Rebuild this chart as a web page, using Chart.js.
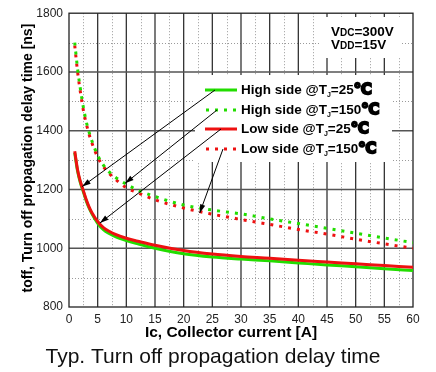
<!DOCTYPE html>
<html>
<head>
<meta charset="utf-8">
<script src="https://cdn.jsdelivr.net/npm/chart.js@4.4.0/dist/chart.umd.min.js"></script>
<style>
html, body { margin: 0; padding: 0; background: #fff; }
#wrap { width: 436px; height: 372px; }
</style>
</head>
<body>
<div id="wrap"><canvas id="myChart"></canvas></div>
<script>
// collector current [A]
var currents = [1, 1.5, 2, 2.5, 3, 3.5, 4, 5, 6, 7, 8, 10, 12, 15, 20, 25, 30, 35, 40, 45, 50, 55, 60];

// toff [ns]
var highSide25  = [1325, 1262, 1222, 1192, 1162, 1137, 1117, 1085, 1063, 1050, 1040, 1026, 1015, 1000, 981, 970, 963, 957, 950, 943, 937, 930, 924];
var highSide150 = [1700, 1610, 1540, 1480, 1432, 1395, 1365, 1316, 1283, 1260, 1243, 1218, 1198, 1176, 1147, 1130, 1117, 1100, 1084, 1068, 1051, 1035, 1019];
var lowSide25   = [1330, 1266, 1226, 1196, 1166, 1141, 1121, 1091, 1070, 1058, 1048, 1034, 1024, 1010, 992, 980, 972, 966, 959, 953, 947, 941, 935];
var lowSide150  = [1690, 1600, 1530, 1470, 1425, 1388, 1358, 1310, 1278, 1255, 1236, 1206, 1189, 1165, 1137, 1116, 1098, 1081, 1064, 1048, 1031, 1015, 1000];

var legendSides = ['High side', 'High side', 'Low side', 'Low side'];
var legendTemps = ['25', '150', '25', '150'];
var lineColors = ['#22dd00', '#22dd00', '#ee1111', '#ee1111'];
var dotted = [false, true, false, true];

// where the legend arrows point (data units)
var arrowX = [2.3, 9.8, 5.4, 22.8];
var arrowY = [1210, 1221, 1086, 1120];

var xTicks = [0, 60, 5];
var yTicks = [800, 1800, 200];

var FONT = '"Liberation Sans", Arial, sans-serif';

function pts(vals) {
    var out = [];
    for (var i = 0; i < currents.length; i++) out.push({x: currents[i], y: vals[i]});
    return out;
}

function ds(vals, idx) {
    return {
        label: legendSides[idx] + ' @TJ=' + legendTemps[idx],
        data: pts(vals),
        borderColor: lineColors[idx],
        borderWidth: 3,
        borderDash: dotted[idx] ? [3, 6] : [],
        borderCapStyle: 'butt',
        pointRadius: 0,
        cubicInterpolationMode: 'monotone',
        fill: false
    };
}

// grid with solid major and dotted minor lines, white boxes for the labels
var gridPlugin = {
    id: 'gridPlugin',
    beforeDatasetsDraw: function (chart) {
        var ctx = chart.ctx, a = chart.chartArea;
        var xs = chart.scales.x, ys = chart.scales.y;
        ctx.save();
        // minor dotted
        ctx.strokeStyle = '#9a9a9a';
        ctx.lineWidth = 1;
        ctx.setLineDash([1, 2]);
        for (var v = xTicks[0] + xTicks[2] / 2; v < xTicks[1]; v += xTicks[2]) {
            var px = Math.round(xs.getPixelForValue(v)) + 0.5;
            ctx.beginPath(); ctx.moveTo(px, a.top); ctx.lineTo(px, a.bottom); ctx.stroke();
        }
        for (var w = yTicks[0] + yTicks[2] / 2; w < yTicks[1]; w += yTicks[2]) {
            var py = Math.round(ys.getPixelForValue(w)) + 0.5;
            ctx.beginPath(); ctx.moveTo(a.left, py); ctx.lineTo(a.right, py); ctx.stroke();
        }
        ctx.setLineDash([]);
        // major solid
        ctx.strokeStyle = '#333';
        ctx.lineWidth = 1.3;
        for (var v2 = xTicks[0] + xTicks[2]; v2 < xTicks[1]; v2 += xTicks[2]) {
            var px2 = xs.getPixelForValue(v2);
            ctx.beginPath(); ctx.moveTo(px2, a.top); ctx.lineTo(px2, a.bottom); ctx.stroke();
        }
        ctx.strokeStyle = '#555';
        ctx.lineWidth = 1.6;
        for (var w2 = yTicks[0] + yTicks[2]; w2 < yTicks[1]; w2 += yTicks[2]) {
            var py2 = ys.getPixelForValue(w2);
            ctx.beginPath(); ctx.moveTo(a.left, py2); ctx.lineTo(a.right, py2); ctx.stroke();
        }
        // white boxes behind legend and conditions
        ctx.fillStyle = '#fff';
        ctx.fillRect(195, 75, 197, 87);
        ctx.fillRect(320, 17, 80, 41);
        // frame
        ctx.strokeStyle = '#222';
        ctx.lineWidth = 1.3;
        ctx.strokeRect(a.left, a.top, a.right - a.left, a.bottom - a.top);
        ctx.restore();
    },
    afterDatasetsDraw: function (chart) {
        var ctx = chart.ctx, a = chart.chartArea;
        var xs = chart.scales.x, ys = chart.scales.y;
        ctx.save();
        var rows = [90, 110, 129, 149];
        var starts = [215, 217, 221, 223];
        for (var i = 0; i < 4; i++) {
            var y = rows[i];
            // legend line
            ctx.strokeStyle = lineColors[i];
            ctx.lineWidth = 3;
            ctx.lineCap = 'butt';
            ctx.setLineDash(dotted[i] ? [3, 6] : []);
            ctx.beginPath(); ctx.moveTo(dotted[i] ? 206 : 205, y); ctx.lineTo(237, y); ctx.stroke();
            ctx.setLineDash([]);
            // label
            ctx.fillStyle = '#000';
            ctx.textBaseline = 'middle';
            ctx.textAlign = 'left';
            var x = 241;
            ctx.font = 'bold 13.5px ' + FONT;
            var t1 = legendSides[i] + ' @T';
            ctx.fillText(t1, x, y);
            x += ctx.measureText(t1).width;
            ctx.font = 'bold 7px ' + FONT;
            ctx.fillText('J', x, y + 5);
            x += ctx.measureText('J').width;
            ctx.font = 'bold 13.5px ' + FONT;
            var t2 = '=' + legendTemps[i];
            ctx.fillText(t2, x, y);
            x += ctx.measureText(t2).width;
            ctx.font = 'bold 15px "DejaVu Sans", sans-serif';
            ctx.lineWidth = 2;
            ctx.strokeStyle = '#000';
            ctx.strokeText('\u2103', x, y);
            ctx.fillText('\u2103', x, y);
            // arrow
            var ex = xs.getPixelForValue(arrowX[i]);
            var ey = ys.getPixelForValue(arrowY[i]);
            var sx = starts[i], sy = y;
            ctx.strokeStyle = '#000';
            ctx.lineWidth = 1;
            ctx.beginPath(); ctx.moveTo(sx, sy); ctx.lineTo(ex, ey); ctx.stroke();
            var ang = Math.atan2(ey - sy, ex - sx);
            ctx.fillStyle = '#000';
            ctx.beginPath();
            ctx.moveTo(ex, ey);
            ctx.lineTo(ex - 9 * Math.cos(ang - 0.3), ey - 9 * Math.sin(ang - 0.3));
            ctx.lineTo(ex - 9 * Math.cos(ang + 0.3), ey - 9 * Math.sin(ang + 0.3));
            ctx.closePath();
            ctx.fill();
        }
        // test conditions
        var cond = [['V', 'DC', '=300V', 31], ['V', 'DD', '=15V', 44]];
        ctx.fillStyle = '#000';
        ctx.textBaseline = 'alphabetic';
        for (var j = 0; j < cond.length; j++) {
            var cx = 331, cy = cond[j][3] + 5;
            ctx.font = 'bold 13.5px ' + FONT;
            ctx.fillText(cond[j][0], cx, cy);
            cx += ctx.measureText(cond[j][0]).width;
            ctx.font = 'bold 10px ' + FONT;
            ctx.fillText(cond[j][1], cx, cy);
            cx += ctx.measureText(cond[j][1]).width;
            ctx.font = 'bold 13.5px ' + FONT;
            ctx.fillText(cond[j][2], cx, cy);
        }
        // axis titles and caption
        ctx.textAlign = 'center';
        ctx.textBaseline = 'middle';
        ctx.font = 'bold 15.5px ' + FONT;
        ctx.fillText('Ic, Collector current [A]', 231, 333);
        ctx.font = '21px ' + FONT;
        ctx.fillStyle = '#111';
        ctx.fillText('Typ. Turn off propagation delay time', 213, 357);
        ctx.save();
        ctx.translate(28, (a.top + a.bottom) / 2 - 2);
        ctx.rotate(-Math.PI / 2);
        ctx.fillStyle = '#000';
        ctx.font = 'bold 14px ' + FONT;
        ctx.fillText('toff, Turn off propagation delay time [ns]', 0, 0);
        ctx.restore();
        ctx.restore();
    }
};

var myChart = new Chart('myChart', {
    type: 'line',
    data: {
        datasets: [
            ds(lowSide25, 2),
            ds(highSide25, 0),
            ds(highSide150, 1),
            ds(lowSide150, 3)
        ]
    },
    options: {
        responsive: true,
        maintainAspectRatio: false,
        animation: false,
        layout: { padding: { left: 0, right: 23, top: 11, bottom: 0 } },
        plugins: { legend: { display: false }, tooltip: { enabled: false } },
        scales: {
            x: {
                type: 'linear',
                min: xTicks[0], max: xTicks[1],
                afterFit: function (s) { s.height = 65; },
                grid: { display: false, drawTicks: false },
                border: { display: false },
                ticks: { stepSize: xTicks[2], padding: 5, color: '#222', maxRotation: 0,
                    callback: function (v) { return String(v); },
                    font: { family: FONT, size: 12 } }
            },
            y: {
                min: yTicks[0], max: yTicks[1],
                afterFit: function (s) { s.width = 69; },
                grid: { display: false, drawTicks: false },
                border: { display: false },
                ticks: { stepSize: yTicks[2], padding: 6, color: '#222',
                    callback: function (v) { return String(v); },
                    font: { family: FONT, size: 12 } }
            }
        }
    },
    plugins: [gridPlugin]
});
</script>
</body>
</html>
